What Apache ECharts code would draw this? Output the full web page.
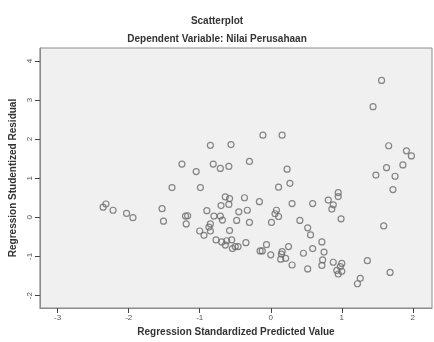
<!DOCTYPE html>
<html>
<head>
<meta charset="utf-8">
<script src="https://cdn.jsdelivr.net/npm/echarts@6/dist/echarts.min.js"></script>
<style>
  html, body { margin: 0; padding: 0; background: #fff; }
  #chart { width: 434px; height: 342px; }
</style>
</head>
<body>
<div id="chart"></div>
<script>
// standardized predicted value (x) / studentized residual (y)
const predicted = [
  1.56, 1.44, -0.85, -0.56, -0.11, 0.16, -1.25, -1.05, -0.81, -0.71,
  -0.59, -0.30, 0.23, 1.66, 1.91, 1.98, 1.63, 1.86, 1.48, 1.75,
  1.72, 1.59, 1.36, 1.68, 1.26, 1.22,
  -1.39, -0.99, -2.32, -2.36, -2.22, -2.03, -1.94, -1.53, -1.51, -1.20,
  -1.17, -1.19, -0.90, -0.80, -0.71, -0.68, -0.85, -0.87, -0.85, -1.00,
  -0.94, -0.64, -0.58, -0.70, -0.59, -0.37, -0.45, -0.33, -0.48, -0.58,
  -0.77, -0.69, -0.62, -0.55, -0.64, -0.54, -0.50, -0.46, -0.35, -0.30,
  0.27, 0.11, -0.16, 0.08, 0.06, 0.11, 0.01, 0.30, 0.59, 0.41,
  0.52, 0.56, 0.81, 0.95, 0.95, 0.88, 0.86, 0.99, -0.06, -0.15,
  -0.12, 0.00, 0.16, 0.15, 0.14, 0.21, 0.25, 0.30, 0.46, 0.52,
  0.59, 0.72, 0.75, 0.73, 0.72, 0.88, 1.00, 0.98, 0.93, 1.00, 0.95
];
const residual = [
  3.50, 2.83, 1.84, 1.86, 2.10, 2.10, 1.36, 1.17, 1.36, 1.25,
  1.30, 1.43, 1.23, 1.83, 1.70, 1.57, 1.27, 1.34, 1.08, 1.05,
  0.71, -0.22, -1.11, -1.41, -1.56, -1.70,
  0.76, 0.76, 0.34, 0.26, 0.18, 0.10, -0.01, 0.22, -0.10, 0.03,
  0.04, -0.17, 0.17, 0.03, 0.03, -0.07, -0.17, -0.25, -0.35, -0.35,
  -0.46, 0.52, 0.48, 0.30, 0.33, 0.50, 0.14, 0.18, -0.08, -0.34,
  -0.58, -0.63, -0.60, -0.58, -0.71, -0.80, -0.75, -0.75, -0.65, -0.13,
  0.87, 0.77, 0.40, 0.18, 0.09, 0.02, -0.13, 0.35, 0.35, -0.08,
  -0.27, -0.45, 0.44, 0.63, 0.53, 0.32, 0.21, -0.04, -0.70, -0.86,
  -0.86, -0.96, -0.88, -0.94, -1.07, -1.05, -0.75, -1.22, -0.92, -1.32,
  -0.80, -0.63, -0.89, -1.09, -1.23, -1.15, -1.18, -1.26, -1.36, -1.38, -1.45
];
const xTicks = [-3, -2, -1, 0, 1, 2];
const yTicks = [-2, -1, 0, 1, 2, 3, 4];

const points = predicted.map((x, i) => [x, residual[i]]);

const chart = echarts.init(document.getElementById('chart'));
const option = {
    animation: false,
    textStyle: { fontFamily: 'Liberation Sans' },
    title: [
        {
            text: 'Scatterplot',
            left: 'center',
            top: 11,
            textStyle: { fontSize: 10, fontWeight: 'bold', color: '#333' }
        },
        {
            text: 'Dependent Variable: Nilai Perusahaan',
            left: 'center',
            top: 29,
            textStyle: { fontSize: 10, fontWeight: 'bold', color: '#333' }
        }
    ],
    grid: {
        left: 39,
        right: 2,
        top: 48,
        bottom: 30,
        show: true,
        backgroundColor: '#f0f0f0',
        borderColor: '#8c8c8c',
        borderWidth: 1
    },
    xAxis: {
        type: 'value',
        min: -3.25,
        max: 2.27,
        name: 'Regression Standardized Predicted Value',
        nameLocation: 'middle',
        nameGap: 19,
        nameTextStyle: { fontSize: 10, fontWeight: 'bold', color: '#333' },
        axisLine: { show: true, onZero: false, lineStyle: { color: '#8c8c8c' } },
        splitLine: { show: false },
        axisTick: {
            show: true,
            length: 5,
            customValues: xTicks,
            lineStyle: { color: '#444', width: 1 }
        },
        axisLabel: {
            customValues: xTicks,
            fontSize: 8,
            color: '#555',
            margin: 6
        }
    },
    yAxis: {
        type: 'value',
        min: -2.32,
        max: 4.33,
        name: 'Regression Studentized Residual',
        nameLocation: 'middle',
        nameGap: 20,
        nameTextStyle: { fontSize: 10, fontWeight: 'bold', color: '#333' },
        axisLine: { show: true, onZero: false, lineStyle: { color: '#8c8c8c' } },
        splitLine: { show: false },
        axisTick: {
            show: true,
            length: 5,
            customValues: yTicks,
            lineStyle: { color: '#444', width: 1 }
        },
        axisLabel: {
            customValues: yTicks,
            fontSize: 8,
            color: '#555',
            rotate: 90,
            margin: 6
        }
    },
    series: [
        {
            type: 'scatter',
            data: points,
            symbol: 'circle',
            symbolSize: 6,
            itemStyle: {
                color: 'rgba(0,0,0,0)',
                borderColor: '#6a6a6a',
                borderWidth: 1.2
            }
        }
    ]
};
chart.setOption(option);
</script>
</body>
</html>
